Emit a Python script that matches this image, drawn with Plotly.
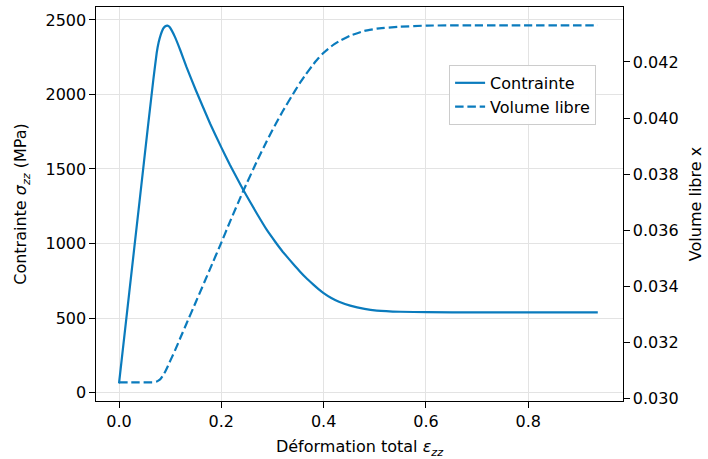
import plotly.graph_objects as go

# Strain (shared abscissa)
strain = [0.0, 0.02, 0.04, 0.0573, 0.0671, 0.0737, 0.0775, 0.0815, 0.0866, 0.0905,
          0.0945, 0.0985, 0.1035, 0.1095, 0.12, 0.132, 0.15, 0.178, 0.20, 0.217,
          0.243, 0.27, 0.289, 0.30, 0.31, 0.32, 0.344, 0.354, 0.365, 0.38,
          0.39, 0.40, 0.415, 0.43, 0.452, 0.48, 0.504, 0.55, 0.602, 0.70,
          0.80, 0.936]

# Stress sigma_zz (MPa)
stress = [62, 670, 1280, 1807, 2100, 2280, 2350, 2400, 2443, 2458,
          2462, 2454, 2427, 2385, 2295, 2183, 2030, 1805, 1645, 1527,
          1359, 1198, 1091, 1037, 990, 945, 849, 811, 772, 724,
          694, 667, 634, 609, 583, 561, 550, 542, 539, 538,
          538, 538]

# Free volume x
free_volume = [0.03056, 0.03056, 0.03056, 0.03056, 0.03056, 0.03059, 0.03063, 0.03069, 0.03082, 0.03095,
               0.0311, 0.03126, 0.03146, 0.0317, 0.03215, 0.03266, 0.03342, 0.03461, 0.03555, 0.0363,
               0.0374, 0.03847, 0.03918, 0.03957, 0.03991, 0.04024, 0.04097, 0.04126, 0.04155, 0.04192,
               0.04214, 0.04233, 0.04256, 0.04274, 0.04294, 0.04311, 0.04319, 0.04326, 0.0433, 0.04331,
               0.04331, 0.04331]

x_ticks = [0.0, 0.2, 0.4, 0.6, 0.8]
x_tick_labels = ["0.0", "0.2", "0.4", "0.6", "0.8"]
y_ticks = [0, 500, 1000, 1500, 2000, 2500]
y2_ticks = [0.030, 0.032, 0.034, 0.036, 0.038, 0.040, 0.042]
y2_tick_labels = ["0.030", "0.032", "0.034", "0.036", "0.038", "0.040", "0.042"]

COLOR = "#0a7bbd"
FONT = "DejaVu Sans"
FS = 16

fig = go.Figure()
fig.add_trace(go.Scatter(
    x=strain, y=stress, name="Contrainte", mode="lines",
    line=dict(color=COLOR, width=2.2, shape="spline", smoothing=0.3),
    yaxis="y"))
fig.add_trace(go.Scatter(
    x=strain, y=free_volume, name="Volume libre", mode="lines",
    line=dict(color=COLOR, width=2.2, dash="8.5px,3.8px", shape="spline", smoothing=0.3),
    yaxis="y2"))

axis_common = dict(
    showline=True, linecolor="black", linewidth=1.2,
    ticks="outside", ticklen=5.5, tickwidth=1.2, tickcolor="black",
    tickfont=dict(family=FONT, size=FS, color="black"),
    zeroline=False,
)

fig.update_layout(
    width=708, height=459,
    margin=dict(l=96, r=85, t=7, b=58, autoexpand=False),
    paper_bgcolor="white", plot_bgcolor="white",
    font=dict(family=FONT, size=FS, color="black"),
    showlegend=True,
    legend=dict(
        x=0.67, y=0.853, xanchor="left", yanchor="top",
        bgcolor="rgba(255,255,255,0.9)", bordercolor="#cccccc", borderwidth=1,
        font=dict(family=FONT, size=FS, color="black"),
        tracegroupgap=0,
    ),
    xaxis=dict(
        **axis_common,
        range=[-0.045, 0.9853], mirror=True,
        tickvals=x_ticks, ticktext=x_tick_labels,
        showgrid=True, gridcolor="#e3e3e3", gridwidth=1,
        title=dict(text="Déformation total <i>ε<sub>zz</sub></i>",
                   font=dict(family=FONT, size=FS), standoff=11),
    ),
    yaxis=dict(
        **axis_common,
        range=[-57, 2587],
        tickvals=y_ticks,
        showgrid=True, gridcolor="#e3e3e3", gridwidth=1,
        title=dict(text="Contrainte <i>σ<sub>zz</sub></i> (MPa)",
                   font=dict(family=FONT, size=FS), standoff=14),
    ),
    yaxis2=dict(
        **axis_common,
        overlaying="y", side="right",
        range=[0.029893, 0.043964],
        tickvals=y2_ticks, ticktext=y2_tick_labels,
        showgrid=False,
        title=dict(text="Volume libre x",
                   font=dict(family=FONT, size=FS), standoff=12),
    ),
)

fig.write_html("out.html",
               config={"displayModeBar": False},
               post_script="document.body.style.margin='0';document.body.style.overflow='hidden';")
